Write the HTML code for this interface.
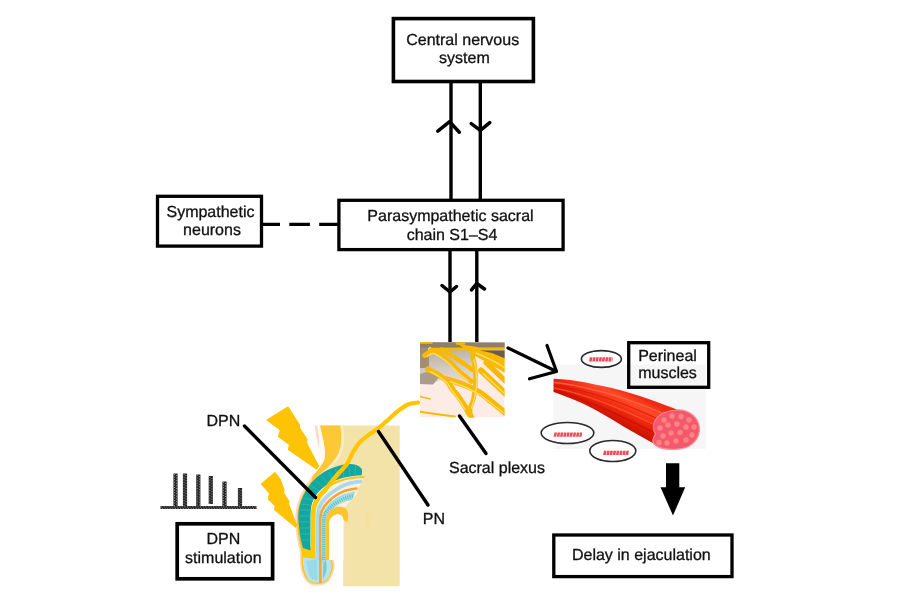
<!DOCTYPE html>
<html lang="en">
<head>
<meta charset="utf-8">
<title>DPN stimulation pathway</title>
<style>
html,body{margin:0;padding:0;background:#fff;}
body{width:900px;height:600px;overflow:hidden;}
svg{display:block;will-change:transform;}
text{font-family:"Liberation Sans",Arial,sans-serif;font-size:16px;fill:#111;stroke:#111;stroke-width:0.3px;text-anchor:middle;text-rendering:geometricPrecision;}
.box{fill:#fff;stroke:#000;stroke-width:3.3;}
.ln{stroke:#000;stroke-width:3.4;fill:none;}
.ah{stroke:#000;stroke-width:3.5;fill:none;stroke-linecap:round;stroke-linejoin:round;}
</style>
</head>
<body>
<svg width="900" height="600" viewBox="0 0 900 600">
<rect width="900" height="600" fill="#fff"/>

<!-- connectors CNS <-> parasympathetic -->
<g id="conn-top">
<line class="ln" x1="451" y1="82" x2="451" y2="200"/>
<line class="ln" x1="480.3" y1="82" x2="480.3" y2="200"/>
<polyline class="ah" points="437.8,131.2 449.6,121.6 459.3,132.2"/>
<polyline class="ah" points="471.2,123.6 480.3,130.3 489.8,122.6"/>
</g>

<!-- connectors parasympathetic <-> plexus -->
<g id="conn-mid">
<line class="ln" x1="450" y1="250" x2="450" y2="344"/>
<line class="ln" x1="476.8" y1="250" x2="476.8" y2="344"/>
<polyline class="ah" points="442,285.5 450,292 456.5,286.5"/>
<polyline class="ah" points="471.5,289.8 476.8,283.5 484.5,289"/>
</g>

<!-- dashed link -->
<line id="dash" x1="263" y1="224.3" x2="338" y2="224.3" stroke="#000" stroke-width="3.2" stroke-dasharray="17 9.3 20.6 9.3 19 0"/>

<!-- boxes -->
<rect class="box" x="393.4" y="18.6" width="140" height="62.9" style="stroke-width:3.6"/>
<text x="462.7" y="45.4">Central nervous</text>
<text x="464.4" y="63.4">system</text>

<rect class="box" x="338.9" y="200.3" width="224.2" height="49.3"/>
<text x="450.5" y="221.3">Parasympathetic sacral</text>
<text x="452" y="240">chain S1–S4</text>

<rect class="box" x="157.5" y="196.3" width="104" height="49.8"/>
<text x="210.5" y="217">Sympathetic</text>
<text x="212" y="235.3">neurons</text>

<!-- PLEXUS -->
<g id="plexus">
<defs>
<clipPath id="pc"><rect x="420" y="342" width="84.6" height="75.5"/></clipPath>
<linearGradient id="bone" x1="0" y1="0" x2="0.3" y2="1">
<stop offset="0" stop-color="#9c8d78"/><stop offset="0.3" stop-color="#beb4a6"/><stop offset="0.65" stop-color="#d3cbc4"/><stop offset="1" stop-color="#e6dbd4"/>
</linearGradient>
</defs>
<g clip-path="url(#pc)">
<rect x="420" y="342" width="84.6" height="75.5" fill="#fdebe5"/>
<path d="M420 342 H505 V362 L486 352 L474 352 L474 380 L466 384 L452 383 L440 380 L432 384.5 L420 384 Z" fill="url(#bone)"/>
<rect x="420" y="343" width="9" height="25" fill="#a28e74"/>
<rect x="420" y="343" width="85" height="4.6" fill="#8f7f6a"/>
<path d="M420 374 C426 371 434 372 440 376 L433 384.5 L420 384 Z" fill="#a99c8c"/>

<circle cx="430" cy="349" r="1.8" fill="#fff"/>
<g fill="none" stroke="#f8ba00" stroke-linecap="round" stroke-linejoin="round">
<path d="M420 342.8 H432" stroke-width="1.8"/>
<path d="M457 343.5 H464" stroke-width="2.5"/>
<path d="M430 349.2 C450 348.7 480 349.2 505 348.7" stroke-width="2.6"/>
<path d="M424.6 355.5 C426.0 354.8 430.1 350.9 433.0 351.0 C435.9 351.1 439.1 354.1 442.0 356.0 C444.9 357.9 447.0 359.6 450.2 362.5 C453.4 365.4 457.4 370.0 461.0 373.2 C464.6 376.4 469.8 380.1 471.5 381.5" stroke-width="5"/>
<path d="M441.7 349.5 C444.4 351.1 452.5 355.9 457.7 359.3 C462.9 362.7 470.1 368.2 472.6 370.0" stroke-width="4.4"/>
<path d="M486 362.5 L506 381.5" stroke-width="5.2"/>
<path d="M481 370.5 L506 394" stroke-width="6"/>
<path d="M447.0 379.5 C449.7 380.3 457.7 382.4 463.0 384.5 C468.3 386.6 474.2 389.1 479.0 392.0 C483.8 394.9 487.5 398.4 492.0 402.0 C496.5 405.6 503.7 411.6 506.0 413.5" stroke-width="6"/>
<path d="M427.8 369.2 C429.5 370.1 434.8 372.5 438.0 374.5 C441.2 376.5 444.7 378.7 447.0 381.0 C449.3 383.3 449.9 385.6 452.0 388.5 C454.1 391.4 457.5 395.2 459.8 398.5 C462.1 401.8 464.0 404.7 466.0 408.0 C468.0 411.3 471.0 416.8 472.0 418.5" stroke-width="5.6"/>
<path d="M472.5 356.0 C472.9 357.7 474.2 361.7 474.7 366.0 C475.2 370.3 475.7 376.7 475.5 382.0 C475.3 387.3 474.6 393.6 473.7 398.0 C472.8 402.4 470.4 405.2 470.0 408.7 C469.6 412.2 471.2 417.3 471.5 419.0" stroke-width="4.6"/>
<path d="M420 396.5 L430 399" stroke-width="1.6"/>
<path d="M420 411.5 C432 414 444 415 455 416.5" stroke-width="1.8"/>
</g>
<path d="M458 344 L476 346.8 L490 351.5 L505 358.5 V373 L490 364 L473 355 Z" fill="#f8ba00"/>
<path d="M480 350.6 L505 350.4 V358.6 L492 353 Z" fill="#6b5b48"/>
<g fill="none" stroke="#ffd968" stroke-linecap="round" stroke-width="1.4">
<path d="M476 353 C486 357 496 362 505 368"/>
<path d="M427.0 356.5 C428.0 356.0 430.7 353.3 433.0 353.5 C435.3 353.7 438.3 355.8 441.0 357.5 C443.7 359.2 446.0 360.8 449.0 363.5 C452.0 366.2 455.8 370.6 459.0 373.5 C462.2 376.4 466.5 379.8 468.0 381.0"/>
<path d="M430.0 371.5 C431.5 372.3 436.2 374.6 439.0 376.5 C441.8 378.4 444.8 380.7 447.0 383.0 C449.2 385.3 450.0 387.7 452.0 390.5 C454.0 393.3 456.8 396.8 459.0 400.0 C461.2 403.2 464.0 407.9 465.0 409.5"/>
<path d="M474.0 360.0 C474.3 361.7 475.6 366.3 476.0 370.0 C476.4 373.7 476.9 377.7 476.7 382.0 C476.5 386.3 475.9 391.7 475.0 396.0 C474.1 400.3 472.1 406.0 471.5 408.0"/>
<path d="M483 373.5 L504 393"/>
<path d="M450 381.5 L464 386.5 L480 394.5 L503 412.5"/>
</g>
</g>
</g>

<!-- MUSCLE -->
<g id="muscle">
<defs>
<linearGradient id="mg" gradientUnits="userSpaceOnUse" x1="622" y1="388" x2="606" y2="420">
<stop offset="0" stop-color="#ee2b12"/><stop offset="0.25" stop-color="#ff4a2a"/><stop offset="0.55" stop-color="#f02a10"/><stop offset="0.8" stop-color="#d81804"/><stop offset="1" stop-color="#c61200"/>
</linearGradient>
</defs>
<rect x="553.5" y="364.5" width="152" height="84.5" fill="#f6f6f6"/>
<ellipse cx="601.4" cy="359" rx="20" ry="8.4" fill="#fff" stroke="#2b2b2b" stroke-width="1.6"/>
<ellipse cx="567.5" cy="433" rx="26.3" ry="10.5" fill="#fff" stroke="#2b2b2b" stroke-width="1.6"/>
<ellipse cx="612.8" cy="451" rx="23" ry="10.5" fill="#fff" stroke="#2b2b2b" stroke-width="1.6"/>
<g fill="none" stroke="#f53a48" stroke-width="4.2" stroke-dasharray="2.6 0.6" opacity="0.92">
<path d="M589.5 359.3H612.6" transform="skewX(-10) translate(63.3 0)"/>
<path d="M554 434.6H582" transform="skewX(-10) translate(76.6 0)"/>
<path d="M603.5 452.9H628.5" transform="skewX(-10) translate(79.9 0)"/>
</g>
<path d="M553.6 378.7 C565 379 576 380.5 586 382.5 C598 385 610 387.5 621.5 390.5 C634 394 646 398 657 402 C665 405 672 407.5 679 410.5 L660 447 C650 441.5 640 436 630.5 430.5 C621 425 612 419.5 603.5 414.5 C594 409 585.5 404.5 577 401 C569 397.5 561 394.5 553.6 392 Z" fill="url(#mg)"/>
<g fill="none" stroke-linecap="round">
<path d="M554 382.5 C580 385 620 395 662 413" stroke="#ff6a48" stroke-width="1.4" opacity="0.8"/>
<path d="M554 385.5 C580 389 618 400 658 419" stroke="#d41a06" stroke-width="1.2" opacity="0.8"/>
<path d="M554 388 C578 392.5 614 405 655 425" stroke="#ff5a38" stroke-width="1.3" opacity="0.7"/>
<path d="M554 390.5 C576 396 610 410 653 432" stroke="#c41000" stroke-width="1.5" opacity="0.7"/>
</g>
<path d="M677 410 C689 409.5 698 417 699.3 427 C700.5 438 692 447.5 680 448.8 C670 450 659 449 654 444 C651.5 441 653.5 437 655.5 434 C653 430 652.5 424 656 419 C660 413.5 668 410.5 677 410 Z" fill="#f4586c" stroke="#f98c98" stroke-width="1.2"/>
<g fill="#fa8c86" opacity="0.85">
<circle cx="664" cy="420" r="2.7"/><circle cx="672" cy="416" r="2.7"/><circle cx="681" cy="416.5" r="2.7"/><circle cx="689" cy="420" r="2.7"/><circle cx="694" cy="427" r="2.7"/>
<circle cx="660" cy="428" r="2.7"/><circle cx="668" cy="425" r="2.7"/><circle cx="677" cy="424" r="2.7"/><circle cx="686" cy="427" r="2.7"/><circle cx="692" cy="435" r="2.7"/>
<circle cx="663" cy="436" r="2.7"/><circle cx="671" cy="433" r="2.7"/><circle cx="680" cy="432.5" r="2.7"/><circle cx="686" cy="440" r="2.7"/><circle cx="676" cy="441" r="2.7"/>
<circle cx="667" cy="443" r="2.7"/><circle cx="659" cy="442.5" r="2.7"/>
</g>
</g>

<rect class="box" x="628.7" y="342.7" width="80" height="44.6" style="fill:none"/>
<text x="667.5" y="360.7">Perineal</text>
<text x="667.5" y="378.4">muscles</text>

<!-- arrow plexus -> muscle -->
<g id="arrow-pm" stroke="#000" stroke-width="3.2" fill="none" stroke-linecap="round" stroke-linejoin="round">
<line x1="508" y1="348" x2="556" y2="371.3"/>
<polyline points="547,345.5 556.5,371.5 529.5,378.8"/>
</g>

<!-- big arrow -->
<path id="bigarrow" d="M666 463.3H679.3V487.3H685.2L673 515.5L660.5 487.3H666Z" fill="#000"/>

<rect class="box" x="553.8" y="535" width="178.2" height="41.6"/>
<text x="641.3" y="559.6">Delay in ejaculation</text>

<!-- ANATOMY -->
<g id="anatomy">
<!-- tan tissue block -->
<rect x="320" y="425.5" width="79.7" height="160.7" fill="#f3e3a9"/>
<path d="M341.5 425.5 C343.5 436 343.3 446 339.5 454.5 C335.5 462.5 328.5 468.5 322 474.5" stroke="#f8ebc8" stroke-width="3" fill="none"/>
<ellipse cx="368" cy="520" rx="3.5" ry="8" fill="#ffd98c" opacity="0.3"/>
<!-- cavity / outside of body -->
<path d="M319 470 C326 478 332 490 336 503 L343.6 512 V587 H290 V470 Z" fill="#fff"/>
<path d="M343.8 522 V586" stroke="#fbdcc6" stroke-width="1.4" fill="none"/>
<!-- skin outline -->
<path d="M316 425.5 C317 437 320.5 448 322 456 C323 463 318 469 313 477 C305 488 299 499 297 511 C295.5 523 297.5 537 300.5 549 C302.5 556 300 563 302.5 571 C304.5 578 307 583 313 584 C319 585 326 584.5 329 579 C332 574 334.5 568 333 562 C331 555 328.5 548 328.3 540 V522" stroke="#fbd9c4" stroke-width="2.6" fill="none"/>
<path d="M319 425 H323 L326.5 450 L325 461 L316 474 L312 474 L319 460 Z" fill="#fffaf6"/>
<!-- yellow fascia band -->
<path d="M320 425.5 H340.2 C342 436 341.8 446 338 454 C334 462 327 468 320.5 474 L314.5 481 L311.5 478.5 C316 471 322 466 324.3 460 C326 454 324.5 446 322.8 438 Z" fill="#fcc838"/>
<!-- outer yellow rim of shaft -->
<path d="M314 479 C306 489 300.5 499 298.5 511 C297 523 299 537 302 549 C303.5 556 301.5 563 303.5 570 C305.5 577 308 581.5 313 582.5 C319 583.5 325 583 328 578 C331 573 333 568 331.5 562 C329.5 555 327.2 548 327 540 V521" stroke="#ffc61a" stroke-width="2" fill="none"/>
<!-- glans -->
<path d="M303.5 558 C302.5 565 305 574 309 580.5 C313 583.5 324 583.5 327.5 579 C331 573 332.5 567 330.5 561 L327 548 L316 550 Z" fill="#b4e2f0"/>
<path d="M306 561 C307 568 309 575 312 579 L317.5 580.5 V559 Z" fill="#9adae2"/>
<path d="M323.5 552 C326 560 327.5 566 326 572 L323 579.5 Z" fill="#74cbd2"/>
<path d="M302 546 L315.5 548 V558.5 L303 557.5 Z" fill="#ffc800"/>
<!-- teal corpus -->
<path d="M303 548 C300.5 541 299 530 298.3 518 C298 508 301 499 305.5 491.5 C309 485 314.5 478.5 321 474 C329 468.5 338 465.5 346 464.3 C352 463.5 358 464.5 361 468 C362.5 470 362.3 473 361.5 475.3 C356 475.5 350 476.3 344 477.5 C337 479.2 331.5 481.8 326 485.5 C319.5 490 314.5 496 312 503.5 C310.5 509 310.5 515 310.5 521 V550.5 Z" fill="#12a8a0"/>
<g stroke="#3db8b2" stroke-width="0.9" fill="none" opacity="0.8">
<path d="M300 540H310M299 534H310.5M298.6 528H310.5M298.4 522H310.5M298.4 516H310.5M298.8 510H311M300.5 504L311.8 505M303 498L313.5 500M306.5 492L316 495.5M311 486L319.5 491M316 480.5L323.5 487.5M322 476L328 484M328.5 472L333 481.5M335.5 469L338.5 479.5M342.5 467L344 478M349 466L349.5 477M355.5 466L355 476.5"/>
</g>
<!-- pale underlay between layers -->
<path d="M311.0 557.0 C311.0 550.8 310.8 528.7 311.0 520.0 C311.2 511.3 310.8 509.5 312.0 505.0 C313.2 500.5 315.3 496.3 318.0 493.0 C320.7 489.7 324.7 487.1 328.0 485.0 C331.3 482.9 334.3 481.8 338.0 480.5 C341.7 479.2 345.7 478.2 350.0 477.5 C354.3 476.8 361.7 476.2 364.0 476.0 L356 495 L346 506 L330 512 L328 557 Z" fill="#fdf1dc"/>
<!-- yellow layer under teal -->
<path d="M313.2 557.0 C313.2 553.3 313.2 541.2 313.2 535.0 C313.2 528.8 313.1 524.7 313.2 520.0 C313.3 515.3 312.9 511.0 314.0 507.0 C315.1 503.0 317.5 499.0 319.5 496.0 C321.5 493.0 324.9 490.2 326.0 489.0" stroke="#ffc800" stroke-width="4.6" fill="none"/>
<path d="M325.0 490.0 C325.8 489.2 327.8 486.9 330.0 485.5 C332.2 484.1 334.7 482.7 338.0 481.5 C341.3 480.3 345.6 479.1 350.0 478.3 C354.4 477.5 362.1 477.1 364.5 476.8" stroke="#fcc320" stroke-width="2" fill="none"/>
<!-- light blue layer -->
<path d="M317.7 560.0 C317.7 556.7 317.7 546.7 317.7 540.0 C317.7 533.3 317.4 525.4 317.7 520.0 C317.9 514.6 317.9 511.2 319.2 507.5 C320.5 503.8 322.8 500.9 325.5 498.0 C328.2 495.1 332.1 492.2 335.5 490.0 C338.9 487.8 341.6 486.0 346.0 484.5 C350.4 483.0 359.3 481.6 362.0 481.0" stroke="#a9d9f1" stroke-width="3.8" fill="none"/>
<!-- inner blue-green layer -->
<path d="M322.0 562.0 C322.0 558.3 322.0 547.0 322.0 540.0 C322.0 533.0 321.7 524.8 322.0 520.0 C322.3 515.2 322.4 514.2 323.6 511.5 C324.8 508.8 326.8 506.3 329.0 504.0 C331.2 501.7 334.2 499.2 337.0 497.5 C339.8 495.8 342.9 494.6 346.0 493.5 C349.1 492.4 353.9 491.6 355.5 491.2 L352.0 500.0 C351.0 500.2 348.3 500.7 346.0 501.5 C343.7 502.3 340.5 503.3 338.0 505.0 C335.5 506.7 332.7 509.0 331.0 511.5 C329.3 514.0 328.8 515.2 328.0 520.0 C327.2 524.8 326.4 533.0 326.0 540.0 C325.6 547.0 325.6 558.3 325.5 562.0 Z" fill="#9fdce4"/>
<path d="M323.8 560.0 C323.8 553.3 323.4 527.9 323.8 520.0 C324.2 512.1 324.6 514.8 326.0 512.5 C327.4 510.2 329.7 508.0 332.0 506.0 C334.3 504.0 337.5 501.9 340.0 500.5 C342.5 499.1 344.7 498.3 347.0 497.5 C349.3 496.7 352.8 495.8 354.0 495.5" stroke="#3fb3b8" stroke-width="3.4" stroke-dasharray="0.9 1.3" fill="none" opacity="0.75"/>
<!-- orange layer -->
<path d="M320.4 583.0 C320.4 577.5 320.3 560.5 320.3 550.0 C320.3 539.5 320.1 526.4 320.3 520.0 C320.5 513.6 320.4 514.4 321.6 511.5 C322.8 508.6 325.0 505.2 327.5 502.5 C330.0 499.8 333.4 497.0 336.5 495.0 C339.6 493.0 342.5 491.6 346.0 490.5 C349.5 489.4 355.6 488.7 357.5 488.3" stroke="#f5a534" stroke-width="2.6" fill="none"/>
<!-- inner yellow arch + cavity -->
<path d="M325.5 560 V524 C325.5 515 330.5 508 338 506.5 C344.5 506 348 509.5 348.3 515 L347.5 522.5 L343.5 520 C343 516 341 514 337 514.5 C332.5 515.5 329 519 329 524 V560 Z" fill="#fcc62a"/>
<path d="M329 560 V524 C329 519 332.5 515.5 337 514.5 C341 514 343 516.5 343.5 520.5 V560 Z" fill="#fffdfb"/>
<!-- pudendal nerve -->
<path d="M418.0 402.5 C416.3 402.8 411.3 403.1 408.0 404.5 C404.7 405.9 401.0 408.8 398.0 411.0 C395.0 413.2 393.0 415.3 390.0 418.0 C387.0 420.7 383.3 424.3 380.0 427.0 C376.7 429.7 373.3 431.5 370.0 434.0 C366.7 436.5 362.5 439.5 360.0 442.0 C357.5 444.5 356.3 447.0 355.0 449.0 C353.7 451.0 353.3 451.5 352.0 454.0 C350.7 456.5 349.3 460.7 347.0 464.0 C344.7 467.3 340.5 471.2 338.0 474.0 C335.5 476.8 334.0 478.5 332.0 481.0 C330.0 483.5 327.0 487.7 326.0 489.0" stroke="#ffc600" stroke-width="4.2" fill="none" stroke-linecap="round"/>
</g>

<g id="bolts" fill="#ffc305" stroke="#ffc305" stroke-width="1.2" stroke-linejoin="round">
<path d="M288 407 L267 420 L280.5 430 L278.5 436.5 L289.5 444.5 L288.5 449.5 L316.5 469 L318.5 466 L306.5 443 L307 439.5 L299.5 428 L299.5 425 Z"/>
<path d="M275 472.5 L261.5 484 L269.5 493 L268.5 499 L275.5 506 L274.5 509.5 L295.5 527 L296.5 525 L288.5 504 L289 501.5 L283.5 493 L284 490 L280 479 Z"/>
</g>

<!-- pointer lines + labels -->
<g stroke="#000" stroke-width="3.4" stroke-linecap="round">
<line x1="244.5" y1="426" x2="315.5" y2="497.5"/>
<line x1="378.5" y1="431.5" x2="428" y2="505"/>
<line x1="459.5" y1="416" x2="486" y2="453.5"/>
</g>
<text x="223.3" y="426">DPN</text>
<text x="433.9" y="524">PN</text>
<text x="497" y="473">Sacral plexus</text>

<!-- PULSES -->
<g id="pulses">
<g stroke="#262626" stroke-width="4.2" fill="none">
<path d="M175.5 473.5V507M185 473.5V507M198.3 474.5V507M210.8 476V504M224.5 481.5V507M240 488V507"/>
</g>
<path d="M160.5 507.5H256.5" stroke="#262626" stroke-width="3.2" fill="none"/>
<g stroke="#fff" stroke-width="0.9" fill="none" opacity="0.550" stroke-dasharray="1 1.6">
<path d="M174.5 474V506M176.6 475V506M184 474V506M186.1 475V506M197.3 475V506M199.4 476V506M209.8 477V504M211.9 478V504M223.5 482V506M225.6 483V506M239 489V506M241.1 490V506"/>
<path d="M161 506.8H256M162 508.4H256"/>
</g>
</g>

<rect class="box" x="177.2" y="523.8" width="95.4" height="55" style="stroke-width:3.7"/>
<text x="223.3" y="543.7">DPN</text>
<text x="223.3" y="562.8">stimulation</text>
</svg>
</body>
</html>
